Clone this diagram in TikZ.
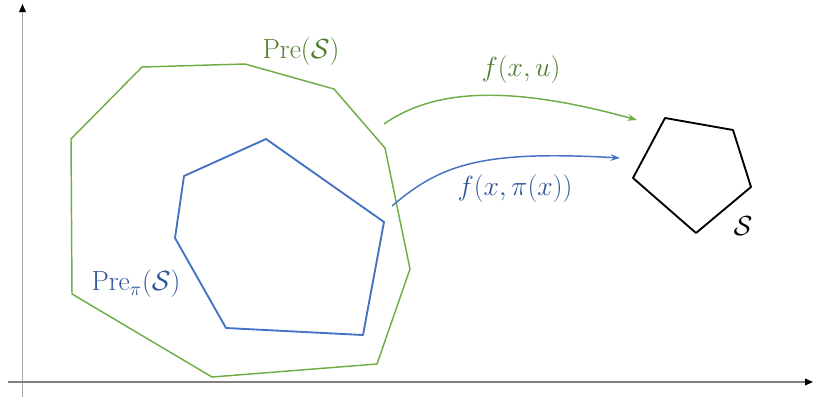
\documentclass[tikz,border=0pt]{standalone}
\usetikzlibrary{arrows.meta,positioning}
\usepackage{amsmath,amssymb}
\definecolor{setgreen}{HTML}{70AD47}
\definecolor{setblue}{HTML}{4472C4}
\definecolor{labelgreen}{HTML}{4E7E2E}
\definecolor{labelblue}{HTML}{2F5597}
\definecolor{axisgray}{HTML}{808080}

\begin{document}
\begin{tikzpicture}[x=0.75pt, y=-0.75pt]
  \useasboundingbox (0,0) rectangle (813,397);
  \tikzset{
    axis/.style={axisgray, line width=1.1pt, -{Triangle[black, length=6pt, width=5pt]}},
    setline/.style={line width=1.1pt, line join=round},
    lbl/.style={font=\fontsize{21}{25}\selectfont, inner sep=0pt}
  }

  % Axes
  \coordinate (xs) at (8,382);
  \coordinate (xe) at (813,382);
  \coordinate (ys) at (22.5,397);
  \coordinate (ye) at (22.5,4);
  \draw[axis, axisgray!70] (ys) -- (ye);
  \draw[axis] (xs) -- (xe);

  % Pre(S)
  \draw[setline, setgreen] (142,67) -- (245,64) -- (334,89) -- (385,148) -- (410,269)
    -- (377,364) -- (212,377) -- (72,294) -- (71,139) -- cycle;
  \node[lbl, labelgreen] (pre) at (301,52) {$\mathrm{Pre}(\mathcal{S})$};

  % Pre_pi(S)
  \draw[setline, setblue, line width=1.4pt] (184,176) -- (266,139) -- (384,222) -- (363,335)
    -- (226,328) -- (175,238) -- cycle;
  \node[lbl, labelblue] (prepi) at (136,284) {$\mathrm{Pre}_{\pi}(\mathcal{S})$};

  % Target set S
  \draw[setline, black, line width=1.4pt] (665,118) -- (733,130) -- (751,187) -- (696,233)
    -- (633,178) -- cycle;
  \node[lbl] (target) at (743,226) {$\mathcal{S}$};

  % Dynamics
  \coordinate (g0) at (384,124);
  \coordinate (g1) at (637,120);
  \draw[setgreen, line width=1.1pt, -{Stealth[length=7pt, width=5pt]}]
    (g0) .. controls (430,92) and (500,82) .. (g1);
  \node[lbl, labelgreen] (fu) at (521,70) {$f(x,u)$};

  \coordinate (b0) at (392,206);
  \coordinate (b1) at (620,158);
  \draw[setblue, line width=1.1pt, -{Stealth[length=7pt, width=5pt]}]
    (b0) .. controls (440,165) and (480,150) .. (b1);
  \node[lbl, labelblue] (fpi) at (515,189) {$f(x,\pi(x))$};
\end{tikzpicture}
\end{document}
